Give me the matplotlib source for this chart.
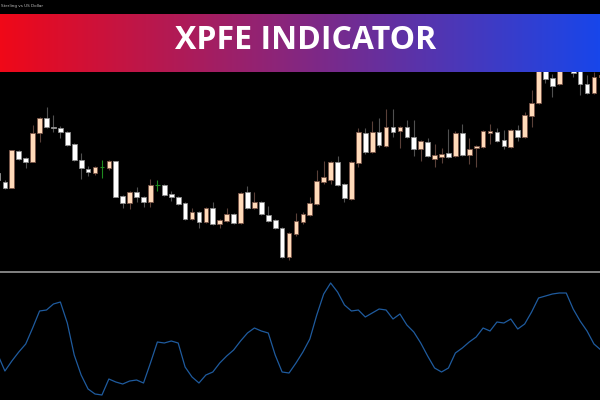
import numpy as np
import matplotlib
matplotlib.use("Agg")
import matplotlib.pyplot as plt

# GBPUSD candles (open, high, low, close)
opens = [1.2827, 1.2818, 1.2812, 1.2849, 1.2842, 1.2838, 1.2867, 1.2882, 1.2873, 1.2872,
         1.2868, 1.2856, 1.2840, 1.2831, 1.2827, 1.2833, 1.2832, 1.2839, 1.2804, 1.2797,
         1.2808, 1.2803, 1.2798, 1.2815, 1.2815, 1.2806, 1.2803, 1.2797, 1.2781, 1.2788,
         1.2778, 1.2792, 1.2776, 1.2779, 1.2786, 1.2777, 1.2808, 1.2792, 1.2798, 1.2785,
         1.2780, 1.2772, 1.2743, 1.2766, 1.2778, 1.2785, 1.2796, 1.2818, 1.2820, 1.2838,
         1.2816, 1.2801, 1.2837, 1.2867, 1.2848, 1.2868, 1.2854, 1.2873, 1.2869, 1.2873,
         1.2863, 1.2851, 1.2858, 1.2841, 1.2843, 1.2847, 1.2844, 1.2867, 1.2845, 1.2852,
         1.2853, 1.2867, 1.2868, 1.2860, 1.2853, 1.2870, 1.2863, 1.2884, 1.2897, 1.2938,
         1.2922, 1.2916, 1.2932, 1.2938, 1.2936, 1.2916, 1.2907, 1.2923]
highs = [1.2830, 1.2820, 1.2850, 1.2850, 1.2843, 1.2875, 1.2883, 1.2893, 1.2885, 1.2874,
         1.2869, 1.2857, 1.2847, 1.2834, 1.2834, 1.2840, 1.2840, 1.2839, 1.2805, 1.2809,
         1.2813, 1.2804, 1.2821, 1.2820, 1.2816, 1.2809, 1.2804, 1.2798, 1.2792, 1.2789,
         1.2793, 1.2798, 1.2781, 1.2792, 1.2787, 1.2808, 1.2814, 1.2808, 1.2799, 1.2794,
         1.2781, 1.2773, 1.2768, 1.2787, 1.2788, 1.2803, 1.2830, 1.2839, 1.2839, 1.2844,
         1.2817, 1.2839, 1.2872, 1.2872, 1.2879, 1.2882, 1.2891, 1.2891, 1.2874, 1.2880,
         1.2880, 1.2860, 1.2862, 1.2856, 1.2852, 1.2871, 1.2869, 1.2876, 1.2862, 1.2855,
         1.2870, 1.2876, 1.2872, 1.2870, 1.2871, 1.2875, 1.2888, 1.2910, 1.2940, 1.2945,
         1.2926, 1.2942, 1.2948, 1.2945, 1.2940, 1.2925, 1.2928, 1.2930]
lows = [1.2818, 1.2811, 1.2812, 1.2840, 1.2832, 1.2838, 1.2858, 1.2872, 1.2868, 1.2862,
        1.2854, 1.2839, 1.2821, 1.2824, 1.2825, 1.2822, 1.2830, 1.2803, 1.2792, 1.2791,
        1.2798, 1.2793, 1.2793, 1.2809, 1.2804, 1.2799, 1.2795, 1.2780, 1.2780, 1.2772,
        1.2777, 1.2775, 1.2772, 1.2778, 1.2776, 1.2776, 1.2791, 1.2791, 1.2785, 1.2778,
        1.2771, 1.2742, 1.2740, 1.2764, 1.2776, 1.2784, 1.2795, 1.2816, 1.2816, 1.2814,
        1.2798, 1.2800, 1.2833, 1.2846, 1.2847, 1.2853, 1.2853, 1.2863, 1.2852, 1.2862,
        1.2844, 1.2839, 1.2843, 1.2833, 1.2837, 1.2842, 1.2843, 1.2844, 1.2836, 1.2833,
        1.2852, 1.2856, 1.2858, 1.2851, 1.2852, 1.2859, 1.2862, 1.2873, 1.2896, 1.2917,
        1.2903, 1.2915, 1.2930, 1.2923, 1.2905, 1.2906, 1.2906, 1.2910]
closes = [1.2820, 1.2812, 1.2850, 1.2841, 1.2838, 1.2867, 1.2882, 1.2873, 1.2872, 1.2868,
          1.2855, 1.2840, 1.2832, 1.2828, 1.2833, 1.2833, 1.2839, 1.2803, 1.2797, 1.2808,
          1.2803, 1.2798, 1.2815, 1.2815, 1.2805, 1.2803, 1.2796, 1.2781, 1.2788, 1.2778,
          1.2792, 1.2776, 1.2780, 1.2786, 1.2777, 1.2807, 1.2792, 1.2798, 1.2786, 1.2779,
          1.2772, 1.2743, 1.2767, 1.2779, 1.2786, 1.2797, 1.2819, 1.2823, 1.2838, 1.2815,
          1.2802, 1.2838, 1.2868, 1.2848, 1.2868, 1.2855, 1.2873, 1.2868, 1.2873, 1.2863,
          1.2851, 1.2859, 1.2844, 1.2845, 1.2846, 1.2843, 1.2867, 1.2845, 1.2851, 1.2854,
          1.2869, 1.2869, 1.2859, 1.2854, 1.2870, 1.2863, 1.2885, 1.2897, 1.2934, 1.2921,
          1.2914, 1.2934, 1.2942, 1.2927, 1.2916, 1.2907, 1.2923, 1.2925]

# XPFE values, one per bar
xpfe = [-19, -35, -25, -16, -8, 8, 25, 26, 32, 34,
        13, -19, -39, -53, -58, -59, -43, -46, -48, -45,
        -44, -47, -27, -6, -7, -5, -7, -31, -41, -47,
        -39, -36, -27, -20, -14, -5, 3, 8, 5, 3,
        -19, -36, -37, -27, -16, -3, 21, 42, 53, 44,
        31, 25, 26, 19, 23, 27, 26, 17, 22, 11,
        4, -7, -20, -32, -36, -32, -17, -12, -6, -1,
        8, 5, 14, 13, 17, 7, 12, 24, 38, 40,
        42, 43, 43, 27, 15, 5, -8, -14]

title = "XPFE INDICATOR"
symbol_text = "Sterling vs US Dollar"

o = np.array(opens)
h = np.array(highs)
l = np.array(lows)
c = np.array(closes)
x = np.arange(len(o))

bull = c > o
bear = c < o
doji = c == o

fig = plt.figure(figsize=(6, 4), dpi=100, facecolor="black")

# price panel (y 0..270 px)
ax = fig.add_axes([0, 0.325, 1, 0.675], facecolor="black")
ax.vlines(x[bull], l[bull], h[bull], color="#5a4038", lw=0.8, zorder=1)
ax.vlines(x[bear], l[bear], h[bear], color="#505050", lw=0.8, zorder=1)
ax.bar(x[bull], c[bull] - o[bull], bottom=o[bull], width=0.68,
       color="#ffdab9", edgecolor="#7a5548", lw=0.6, zorder=2)
ax.bar(x[bear], o[bear] - c[bear], bottom=c[bear], width=0.68,
       color="white", edgecolor="#8a8a8a", lw=0.6, zorder=2)
ax.vlines(x[doji], l[doji], h[doji], color="#1f8a1f", lw=0.8, zorder=2)
ax.hlines(o[doji], x[doji] - 0.34, x[doji] + 0.34, color="#1f8a1f", lw=0.8, zorder=2)
ax.set_xlim(0.29, 86.87)
ax.set_ylim(1.2730, 1.3000)
ax.axis("off")

ax.text(0.002, 0.985, symbol_text, transform=ax.transAxes, fontsize=3,
        color="#bbbbbb", va="top", ha="left")

# indicator panel (y 272..400 px)
ax2 = fig.add_axes([0, 0, 1, 0.32], facecolor="black")
ax2.plot(x, xpfe, color="#1f5b9e", lw=0.9)
ax2.set_xlim(0.29, 86.87)
ax2.set_ylim(-64, 64)
ax2.set_xticks([])
ax2.set_yticks([])
for s in ["bottom", "left", "right"]:
    ax2.spines[s].set_visible(False)
ax2.spines["top"].set_color("#8c8c8c")
ax2.spines["top"].set_linewidth(1.3)

# gradient title banner (y 14..72 px)
ax3 = fig.add_axes([0, 0.82, 1, 0.145])
left = np.array([240, 8, 24]) / 255
right = np.array([24, 70, 234]) / 255
t = np.linspace(0, 1, 300)[None, :, None]
grad = left * (1 - t) + right * t
ax3.imshow(grad, aspect="auto", extent=[0, 1, 0, 1])
ax3.set_xlim(0, 1)
ax3.set_ylim(0, 1)
ax3.axis("off")
ax3.text(0.51, 0.54, title, color="white", fontsize=23, fontweight="bold",
         family="Open Sans", ha="center", va="center")

fig.savefig("out.png", dpi=100, facecolor="black")
